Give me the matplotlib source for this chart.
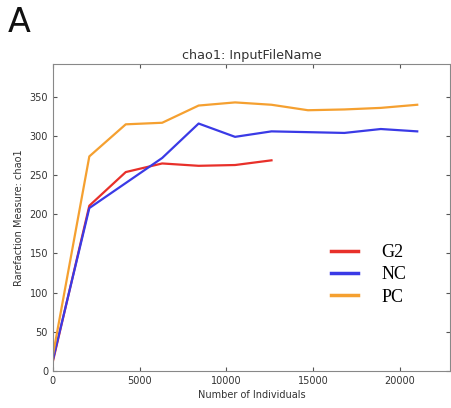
import matplotlib.pyplot as plt

# rarefaction depths (number of individuals)
depth = [0, 2100, 4200, 6300, 8400, 10500, 12600, 14700, 16800, 18900, 21000]
g2 = [12, 211, 254, 265, 262, 263, 269]
nc = [14, 208, 240, 272, 316, 299, 306, 305, 304, 309, 306]
pc = [20, 274, 315, 317, 339, 343, 340, 333, 334, 336, 340]

fig = plt.figure(figsize=(4.52, 4.08), dpi=100)
ax = fig.add_axes([0.117, 0.091, 0.879, 0.752])

ax.plot(depth[:len(g2)], g2, color='#e8302a', lw=1.6, label='G2')
ax.plot(depth, nc, color='#3a3ae6', lw=1.6, label='NC')
ax.plot(depth, pc, color='#f5a030', lw=1.6, label='PC')

ax.set_xlim(0, 22900)
ax.set_ylim(0, 392)
ax.set_yticks(range(0, 351, 50))
ax.set_xticks(range(0, 20001, 5000))
ax.tick_params(direction='in', top=True, right=True, labelsize=7,
               colors='#555555', labelcolor='#333333', length=3)
for s in ax.spines.values():
    s.set_color('#888888')

ax.set_title('chao1: InputFileName', fontsize=9.2, color='#333333', pad=4)
ax.set_xlabel('Number of Individuals', fontsize=7, color='#333333', labelpad=3)
ax.set_ylabel('Rarefaction Measure: chao1', fontsize=7, color='#333333', labelpad=4)

leg = ax.legend(loc='center left', bbox_to_anchor=(0.70, 0.313), frameon=False,
                prop={'family': 'Liberation Serif', 'size': 13},
                borderaxespad=0, borderpad=0,
                handlelength=1.5, labelspacing=0.3, handletextpad=1.3)
for h in leg.legend_handles:
    h.set_linewidth(2.5)

fig.text(0.018, 0.922, 'A', fontsize=24, color='#111111')

fig.savefig('out.png', dpi=100)
